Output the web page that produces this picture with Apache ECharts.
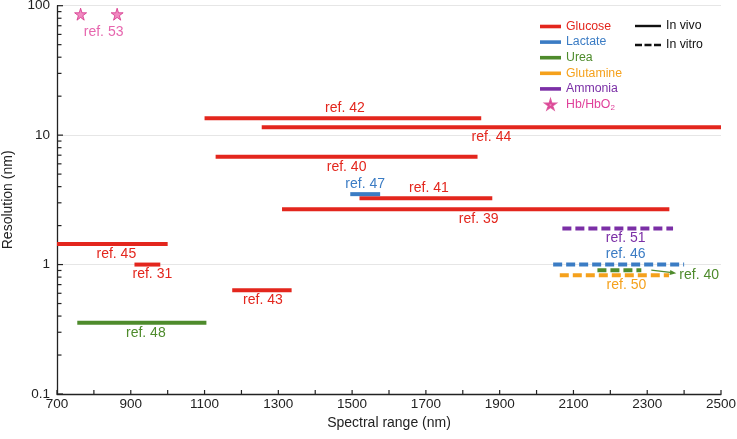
<!DOCTYPE html>
<html><head><meta charset="utf-8">
<script src="https://cdn.jsdelivr.net/npm/echarts@6/dist/echarts.min.js"></script>
<style>html,body{margin:0;padding:0;background:#fff}#c{width:737px;height:439px}</style>
</head><body><div id="c"></div>
<script>
// ---------------- DATA ----------------
const refLabels  = ['ref. 42','ref. 44','ref. 40','ref. 47','ref. 41','ref. 39','ref. 45','ref. 31','ref. 43','ref. 48','ref. 51','ref. 46','ref. 40','ref. 50'];
const analytes   = ['Glucose','Glucose','Glucose','Lactate','Glucose','Glucose','Glucose','Glucose','Glucose','Urea','Ammonia','Lactate','Urea','Glutamine'];
const modes      = ['In vivo','In vivo','In vivo','In vivo','In vivo','In vivo','In vivo','In vivo','In vivo','In vivo','In vitro','In vitro','In vitro','In vitro'];
const rangeStart = [1100, 1255, 1130, 1495, 1520, 1310,  700,  910, 1175,  755, 2070, 2045, 2165, 2063];
const rangeEnd   = [1850, 2500, 1840, 1576, 1880, 2360, 1000,  980, 1336, 1105, 2370, 2400, 2284, 2359];
const resolution = [13.5, 11.5,  6.8,  3.5, 3.25, 2.67, 1.44, 1.0, 0.632, 0.355, 1.9, 1.0, 0.905, 0.826];
const hbWavelength = [764, 863];
const hbResolution = [86, 86];
const hbLabel = 'ref. 53';
const legendAnalytes = ['Glucose','Lactate','Urea','Glutamine','Ammonia','Hb/HbO2'];
const legendModes = ['In vivo','In vitro'];
const xTicks = [700,800,900,1000,1100,1200,1300,1400,1500,1600,1700,1800,1900,2000,2100,2200,2300,2400,2500];
const yMajorTicks = [0.1, 1, 10, 100];
const yMinorTicks = [0.2,0.3,0.4,0.5,0.6,0.7,0.8,0.9,2,3,4,5,6,7,8,9,20,30,40,50,60,70,80,90];

// ---------------- STYLE ----------------
const FONT = 'Liberation Sans, Arial, Helvetica, sans-serif';
const colors = {Glucose:'#e3261d', Lactate:'#3b7cc4', Urea:'#4e8b2c', Glutamine:'#f5a11c', Ammonia:'#7b2fa6', 'Hb/HbO2':'#e0409a'};
// label placement per segment: 'above' | 'below' | 'arrow'
const labelSide = ['above','below','below','above','above','below','below','below','below','below','below','above','arrow','below'];
const labelShift = [2,0,0,0,3,3,4,5,1,4,8,7,0,12];
const starPath = 'path://M50,0L61,35L98,35L68,57L79,91L50,70L21,91L32,57L2,35L39,35Z';

function segRender(params, api) {
  const i = api.value(3);
  const y = api.value(2);
  const p1 = api.coord([api.value(0), y]);
  const p2 = api.coord([api.value(1), y]);
  const color = colors[analytes[i]];
  const dashed = modes[i] === 'In vitro';
  const children = [{
    type: 'line',
    shape: {x1: p1[0], y1: p1[1], x2: p2[0], y2: p2[1]},
    style: {stroke: color, lineWidth: 4, lineDash: dashed ? [9, 4] : null, lineCap: 'butt'}
  }];
  const side = labelSide[i];
  const cx = (p1[0] + p2[0]) / 2 + labelShift[i];
  if (side === 'arrow') {
    const ax1 = p2[0] + 10, ay1 = p1[1], ax2 = p2[0] + 35, ay2 = p1[1] + 3;
    children.push({type:'line', shape:{x1:ax1,y1:ay1,x2:ax2-4,y2:ay2-0.5}, style:{stroke:color, lineWidth:1.2}});
    children.push({type:'polygon', shape:{points:[[ax2,ay2],[ax2-6,ay2-3.2],[ax2-6.8,ay2+1.8]]}, style:{fill:color}});
    children.push({type:'text', style:{text: refLabels[i], x: ax2 + 3, y: ay2 + 2, fill: color, fontSize: 14, fontFamily: FONT, align:'left', verticalAlign:'middle'}});
  } else {
    children.push({type:'text', style:{text: refLabels[i], x: cx, y: p1[1] + (side === 'above' ? -10 : 10), fill: color, fontSize: 14, fontFamily: FONT, align:'center', verticalAlign:'middle'}});
  }
  return {type:'group', children};
}

// tick marks: data [x, y, orientation(0 = y-axis tick, 1 = x-axis tick), length]
function tickRender(params, api) {
  const p = api.coord([api.value(0), api.value(1)]);
  const len = api.value(3);
  const shape = api.value(2) === 0
    ? {x1: p[0], y1: p[1], x2: p[0] + len, y2: p[1]}
    : {x1: p[0], y1: p[1], x2: p[0], y2: p[1] - len};
  return {type: 'line', shape, style: {stroke: '#222', lineWidth: 1.2}};
}
const tickData = []
  .concat(yMinorTicks.map(v => [700, v, 0, 4.5]))
  .concat(yMajorTicks.map(v => [700, v, 0, 6]))
  .concat(xTicks.map(v => [v, 0.1, 1, 4]));

const series = [];
['Glucose','Lactate','Urea','Glutamine','Ammonia'].forEach(name => {
  const data = [];
  analytes.forEach((a, i) => { if (a === name) data.push([rangeStart[i], rangeEnd[i], resolution[i], i]); });
  series.push({
    name, type: 'custom', renderItem: segRender, data,
    encode: {x: [0, 1], y: 2},
    itemStyle: {color: colors[name]}, color: colors[name], silent: true, z: 3
  });
});
series.push({
  name: 'Hb/HbO2', type: 'scatter', symbol: starPath, symbolSize: 12,
  itemStyle: {color: '#ec6db1', borderColor: '#d6338a', borderWidth: 1}, color: colors['Hb/HbO2'],
  data: hbWavelength.map((w, i) => {
    const d = {value: [w, hbResolution[i]]};
    if (i === 0) d.label = {show: true, formatter: hbLabel, position: 'bottom', distance: 4, offset: [23, 0], color: colors['Hb/HbO2'], fontSize: 14, fontFamily: FONT};
    return d;
  }),
  silent: true
});
series.push({name: 'In vivo', type: 'line', data: [], color: '#111'});
series.push({name: 'In vitro', type: 'line', data: [], color: '#111', lineStyle: {type: 'dashed'}});
series.push({
  name: 'ticks', type: 'custom', silent: true, z: 6, clip: false,
  renderItem: tickRender,
  encode: {x: 0, y: 1},
  data: tickData
});

const option = {
  animation: false,
  backgroundColor: '#fff',
  textStyle: {fontFamily: FONT},
  grid: {left: 57, right: 16, top: 5.7, bottom: 45, containLabel: false, outerBoundsMode: 'none'},
  xAxis: {
    type: 'value', min: 700, max: 2500, interval: 200,
    name: 'Spectral range (nm)', nameLocation: 'middle', nameGap: 20,
    nameTextStyle: {fontSize: 14, color: '#222', fontFamily: FONT},
    axisLine: {show: true, lineStyle: {color: '#222', width: 1.3}},
    axisTick: {show: false},
    axisLabel: {fontSize: 13.5, color: '#222', margin: 3, fontFamily: FONT, formatter: v => String(v)},
    splitLine: {show: false}
  },
  yAxis: {
    type: 'log', logBase: 10, min: 0.1, max: 100,
    name: 'Resolution (nm)', nameLocation: 'middle', nameGap: 42,
    nameTextStyle: {fontSize: 14, color: '#222', fontFamily: FONT},
    axisLine: {show: true, lineStyle: {color: '#222', width: 1.3}},
    axisTick: {show: false},
    axisLabel: {fontSize: 13.5, color: '#222', margin: 7, fontFamily: FONT},
    splitLine: {show: true, lineStyle: {color: '#e6e6e6', width: 1}}
  },
  legend: [{
    orient: 'vertical', left: 540, top: 19.5, padding: 0, itemGap: 1.6,
    itemWidth: 21, itemHeight: 9, selectedMode: false,
    textStyle: {fontSize: 12.3, lineHeight: 14, fontFamily: FONT,
      rich: {s: {fontSize: 8, color: colors['Hb/HbO2'], verticalAlign: 'bottom', lineHeight: 8, fontFamily: FONT}}},
    formatter: n => n === 'Hb/HbO2' ? 'Hb/HbO{s|2}' : n,
    data: legendAnalytes.map(n => ({
      name: n,
      icon: n === 'Hb/HbO2' ? starPath : 'path://M0,0H21V3.6H0Z',
      textStyle: {color: colors[n]}
    }))
  }, {
    orient: 'vertical', left: 635, top: 19, padding: 0, itemGap: 5,
    itemWidth: 26, itemHeight: 9, selectedMode: false,
    textStyle: {fontSize: 12.3, lineHeight: 14, color: '#111', fontFamily: FONT},
    data: [
      {name: 'In vivo', icon: 'path://M0,0H26V2.4H0Z'},
      {name: 'In vitro', icon: 'path://M0,0H7V2.4H0Z M9.5,0H16.5V2.4H9.5Z M19,0H26V2.4H19Z'}
    ]
  }],
  series
};
echarts.init(document.getElementById('c'), null, {renderer: 'canvas'}).setOption(option);
</script>
</body></html>
